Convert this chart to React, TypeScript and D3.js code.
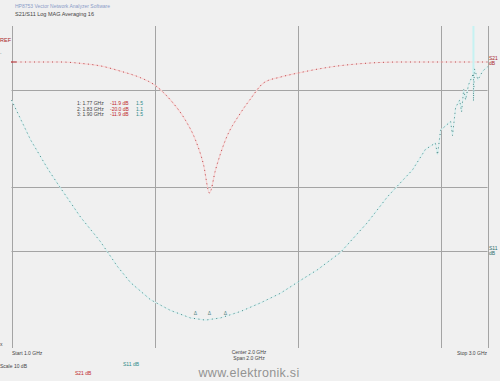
import React from "react";
import * as d3 from "d3";

const W = 500;
const H = 381;

// Frequency axis (MHz)
const fStart = 1000;
const fStop = 3000;
const vGridFreqs = [1000, 1601, 2202, 2803, 3000];

// S21 (red) trace, dB
const s21Freq = [1000, 1100, 1206, 1290, 1374, 1458, 1542, 1601, 1668, 1731, 1773, 1807, 1832, 1857, 1899, 1962, 2004, 2059, 2130, 2202, 2340, 2508, 2634, 2800, 3000];
const s21Db = [0, 0, 0, -0.2, -0.6, -1.4, -2.4, -3.5, -5.8, -8.9, -11.9, -15.7, -20, -16.5, -11.9, -7.8, -5.65, -3.2, -2.3, -1.7, -0.76, -0.15, 0, 0, 0];

// S11 (teal) trace, dB
const s11Freq = [1000, 1080, 1155, 1197, 1290, 1374, 1445, 1500, 1584, 1668, 1752, 1815, 1878, 1962, 2046, 2130, 2214, 2286, 2382, 2496, 2580, 2626, 2685, 2739, 2781, 2790, 2803, 2845, 2853, 2866, 2883, 2891, 2900, 2908, 2920, 2941, 2941, 2945, 2960, 2980, 3000];
const s11Db = [-6.9, -10.6, -13.4, -14.8, -17.8, -20.1, -22.4, -23.9, -25.5, -26.5, -27.2, -27.4, -27.2, -26.6, -25.8, -24.9, -23.7, -22.7, -21.1, -18.3, -15.9, -14.8, -13.4, -11.5, -10.9, -12.0, -9.7, -8.9, -10.2, -7.6, -6.9, -8.0, -5.9, -6.9, -5.5, -4.4, -7.0, -4.0, -5.0, -4.2, -3.8];

const hGridDb = [-6, -15, -21];
const markerFreqs = [1773, 1832, 1899];

const headerLines = ["HP8753 Vector Network Analyzer Software", "S21/S11  Log MAG  Averaging 16"];
const markerRows = [
  ["1: 1.77 GHz", "-11.9 dB", "1.5"],
  ["2: 1.83 GHz", "-20.0 dB", "1.1"],
  ["3: 1.90 GHz", "-11.9 dB", "1.5"],
];

export default function App() {
  const x = d3.scaleLinear().domain([fStart, fStop]).range([11.5, 487.5]);
  const y21 = d3.scaleLinear().domain([0, -20]).range([62, 193]);
  const y11 = d3.scaleLinear().domain([0, -30]).range([26, 348]);

  const line21 = d3.line<number>().x((d, i) => x(s21Freq[i])).y((d) => y21(d)).curve(d3.curveMonotoneX);
  const line11 = d3.line<number>().x((d, i) => x(s11Freq[i])).y((d) => y11(d));

  const grid = "#a4a4a4";
  const font = "Liberation Sans, Arial, sans-serif";
  const txt = "#444";

  return (
    <svg width={W} height={H} style={{ position: "absolute", left: 0, top: 0, background: "#f0f0f0" }} fontFamily={font}>
      <rect x={0} y={0} width={W} height={H} fill="#f0f0f0" />
      <text x={15} y={8} fontSize={5} fill="#8b9bc8">{headerLines[0]}</text>
      <text x={15} y={16} fontSize={5.5} fill={txt}>{headerLines[1]}</text>

      {vGridFreqs.map((f) => (
        <line key={f} x1={Math.round(x(f)) + 0.5} x2={Math.round(x(f)) + 0.5} y1={26} y2={348} stroke={grid} strokeWidth={1} />
      ))}
      {hGridDb.map((v) => (
        <line key={v} x1={11.5} x2={487.5} y1={Math.round(y11(v)) + 0.5} y2={Math.round(y11(v)) + 0.5} stroke={grid} strokeWidth={1} />
      ))}

      {/* S21 trace */}
      <path d={line21(s21Db) || ""} fill="none" stroke="#f8d4d4" strokeWidth={1.2} />
      <path d={line21(s21Db) || ""} fill="none" stroke="#a8282c" strokeWidth={0.9} strokeDasharray="1 3.5" opacity={0.9} />

      {/* S11 trace */}
      <line x1={x(2941)} x2={x(2941)} y1={26} y2={y11(-4.4)} stroke="#c6f2f2" strokeWidth={2} />
      <path d={line11(s11Db) || ""} fill="none" stroke="#d6f0f0" strokeWidth={1.2} />
      <path d={line11(s11Db) || ""} fill="none" stroke="#2b6e6c" strokeWidth={0.9} strokeDasharray="1 3.5" opacity={0.9} />

      {markerFreqs.map((f, i) => {
        const idx = s11Freq.indexOf(f);
        const yy = idx >= 0 ? y11(s11Db[idx]) : y11(-27);
        return (
          <text key={i} x={x(f)} y={yy - 1} fontSize={5} fill="#2b6e6c" textAnchor="middle" opacity={0.8}>Δ</text>
        );
      })}

      {/* left/right reference labels */}
      <text x={0} y={42} fontSize={5.5} fill="#a8282c">REF</text>
      <text x={0} y={54} fontSize={5.5} fill="#2b6e6c">.</text>
      <line x1={11} x2={16} y1={62} y2={62} stroke="#a8282c" />
      <text x={489} y={60} fontSize={5} fill="#a8282c">S21</text>
      <text x={489} y={65} fontSize={5} fill="#a8282c">dB</text>
      <text x={489} y={250} fontSize={5} fill="#2b6e6c">S11</text>
      <text x={489} y={255} fontSize={5} fill="#2b6e6c">dB</text>

      {/* marker table */}
      {markerRows.map((r, i) => (
        <g key={i}>
          <text x={77} y={105 + i * 5.5} fontSize={5} fill={txt}>{r[0]}</text>
          <text x={110} y={105 + i * 5.5} fontSize={5} fill="#c0282c">{r[1]}</text>
          <text x={136} y={105 + i * 5.5} fontSize={5} fill="#2b8a88">{r[2]}</text>
        </g>
      ))}

      {/* bottom labels */}
      <text x={0} y={346} fontSize={5} fill={txt}>x</text>
      <text x={12} y={355} fontSize={5} fill={txt}>Start 1.0 GHz</text>
      <text x={249} y={354} fontSize={5} fill={txt} textAnchor="middle">Center 2.0 GHz</text>
      <text x={249} y={360} fontSize={5} fill={txt} textAnchor="middle">Span 2.0 GHz</text>
      <text x={487} y={355} fontSize={5} fill={txt} textAnchor="end">Stop 3.0 GHz</text>
      <text x={0} y={368} fontSize={5} fill={txt}>Scale 10 dB</text>
      <text x={123} y={366} fontSize={5} fill="#2b8a88">S11 dB</text>
      <text x={75} y={375} fontSize={5} fill="#c0282c">S21 dB</text>
      <text x={249} y={377} fontSize={12.5} fill="#939393" textAnchor="middle" letterSpacing={0.3}>www.elektronik.si</text>
    </svg>
  );
}
